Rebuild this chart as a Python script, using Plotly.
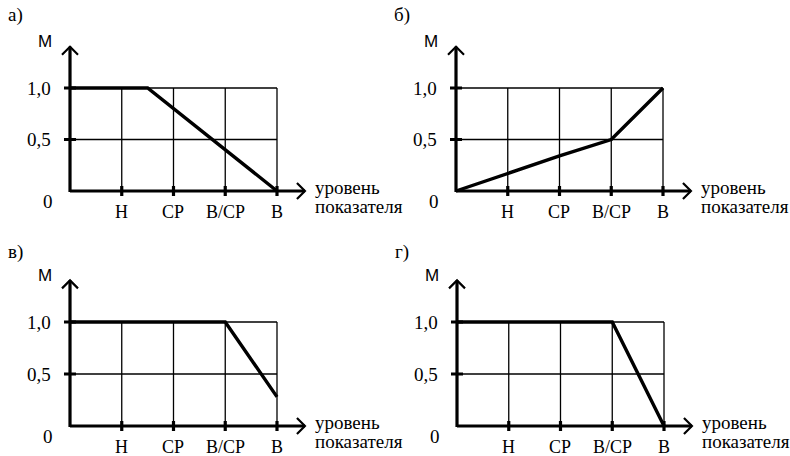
import plotly.graph_objects as go

# ---- data ----
levels = [1, 2, 3, 4]
level_labels = ["Н", "СР", "В/СР", "В"]
y_ticks = [0.5, 1.0]
y_tick_labels = ["0,5", "1,0"]
panel_letters = ["а)", "б)", "в)", "г)"]

a_x = [0, 1.5, 4]
a_y = [1.0, 1.0, 0.0]
b_x = [0, 1, 2, 3, 4]
b_y = [0.0, 0.17, 0.34, 0.5, 1.0]
c_x = [0, 3, 4]
c_y = [1.0, 1.0, 0.28]
d_x = [0, 3, 4]
d_y = [1.0, 1.0, 0.0]

series = [(a_x, a_y), (b_x, b_y), (c_x, c_y), (d_x, d_y)]

# ---- layout geometry (pixels) ----
W, H = 790, 456
UX = 51.75
panels = [
    dict(ox=70, oy=191, uy=103, letter=(15, 15)),
    dict(ox=456, oy=191, uy=103, letter=(402, 15)),
    dict(ox=70, oy=426, uy=104, letter=(15, 252)),
    dict(ox=457, oy=426, uy=104, letter=(402, 252)),
]
XR = [-0.9, 6.3]
YR = [-0.25, 1.6]
X_TIP = 4.54
Y_TIP = 1.40

serif = "'Liberation Serif', 'Times New Roman', Times, serif"
sans = "'Liberation Sans', Arial, sans-serif"

fig = go.Figure()
shapes = []
annotations = []
layout_axes = {}

for i, (p, (sx, sy)) in enumerate(zip(panels, series)):
    n = "" if i == 0 else str(i + 1)
    xa, ya = "x" + n, "y" + n
    ox, oy, uy = p["ox"], p["oy"], p["uy"]
    xdom = [(ox + XR[0] * UX) / W, (ox + XR[1] * UX) / W]
    ydom = [(H - (oy - YR[0] * uy)) / H, (H - (oy - YR[1] * uy)) / H]
    layout_axes["xaxis" + n] = dict(domain=xdom, range=XR, visible=False, fixedrange=True, anchor=ya)
    layout_axes["yaxis" + n] = dict(domain=ydom, range=YR, visible=False, fixedrange=True, anchor=xa)

    thin = dict(color="black", width=1.3)
    thick = dict(color="black", width=3.2)
    # grid
    for lv in levels:
        shapes.append(dict(type="line", xref=xa, yref=ya, x0=lv, x1=lv, y0=0, y1=1.0, line=thin, layer="below"))
    for yt in y_ticks:
        shapes.append(dict(type="line", xref=xa, yref=ya, x0=0, x1=max(levels), y0=yt, y1=yt, line=thin, layer="below"))
    # axes
    shapes.append(dict(type="line", xref=xa, yref=ya, x0=0, x1=X_TIP, y0=0, y1=0, line=thick))
    shapes.append(dict(type="line", xref=xa, yref=ya, x0=0, x1=0, y0=-0.01, y1=Y_TIP, line=thick))
    # arrowheads (open V)
    ax_dx, ax_dy = 8 / UX, 8 / uy
    shapes.append(dict(type="path", xref=xa, yref=ya,
                       path=f"M {X_TIP - ax_dx} {ax_dy} L {X_TIP} 0 L {X_TIP - ax_dx} {-ax_dy}",
                       line=dict(color="black", width=2.2)))
    shapes.append(dict(type="path", xref=xa, yref=ya,
                       path=f"M {-ax_dx} {Y_TIP - ax_dy} L 0 {Y_TIP} L {ax_dx} {Y_TIP - ax_dy}",
                       line=dict(color="black", width=2.2)))
    # tick marks
    for lv in levels:
        shapes.append(dict(type="line", xref=xa, yref=ya, x0=lv, x1=lv, y0=-5 / uy, y1=5 / uy, line=thick))
    for yt in y_ticks:
        shapes.append(dict(type="line", xref=xa, yref=ya, x0=-6 / UX, x1=6 / UX, y0=yt, y1=yt, line=thick))

    # function line
    fig.add_trace(go.Scatter(x=sx, y=sy, mode="lines", xaxis=xa, yaxis=ya,
                             line=dict(color="black", width=3.4), showlegend=False, hoverinfo="skip"))

    # labels
    font = dict(family=serif, size=19, color="black")
    for lv, lab in zip(levels, level_labels):
        annotations.append(dict(x=lv, y=-0.205, xref=xa, yref=ya, text=lab, showarrow=False,
                                font=dict(family=serif, size=18, color="black"),
                                xanchor="center", yanchor="middle"))
    for yt, lab in zip(y_ticks, y_tick_labels):
        annotations.append(dict(x=-0.33, y=yt, xref=xa, yref=ya, text=lab, showarrow=False,
                                font=font, xanchor="right", yanchor="middle"))
    annotations.append(dict(x=-0.43, y=-0.105, xref=xa, yref=ya, text="0", showarrow=False,
                            font=font, xanchor="center", yanchor="middle"))
    annotations.append(dict(x=4.7, y=0.035, xref=xa, yref=ya, text="уровень", showarrow=False,
                            font=font, xanchor="left", yanchor="middle"))
    annotations.append(dict(x=4.7, y=-0.15, xref=xa, yref=ya, text="показателя", showarrow=False,
                            font=font, xanchor="left", yanchor="middle"))
    annotations.append(dict(x=-0.48, y=1.45, xref=xa, yref=ya, text="М", showarrow=False,
                            font=dict(family=sans, size=17, color="black"), xanchor="center", yanchor="middle"))
    lx, ly = p["letter"]
    annotations.append(dict(x=lx / W, y=1 - ly / H, xref="paper", yref="paper", text=panel_letters[i],
                            showarrow=False, font=font, xanchor="center", yanchor="middle"))

fig.update_layout(
    width=W, height=H,
    margin=dict(l=0, r=0, t=0, b=0),
    paper_bgcolor="white", plot_bgcolor="rgba(0,0,0,0)",
    shapes=shapes, annotations=annotations,
    **layout_axes,
)

fig.write_html("out.html", config={"displayModeBar": False})
